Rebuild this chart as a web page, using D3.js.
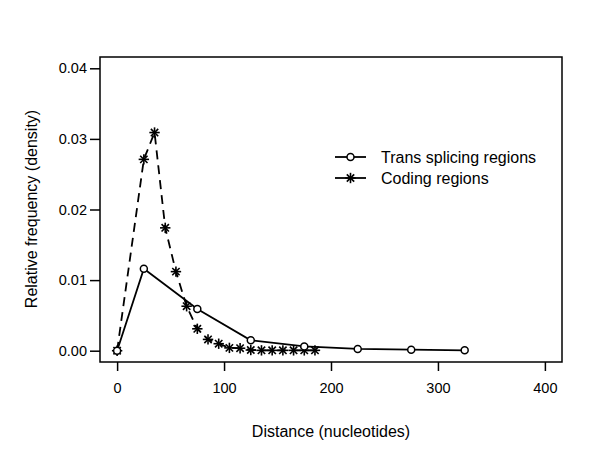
<!DOCTYPE html>
<html>
<head>
<meta charset="utf-8">
<script src="https://cdn.jsdelivr.net/npm/d3@7"></script>
<style>
  body { margin: 0; background: #fff; }
  svg text { font-family: "Liberation Sans", Arial, sans-serif; fill: #000; }
</style>
</head>
<body>
<div id="chart"></div>
<script>
// distance bins (nucleotides) and densities
var transX = [0, 25, 75, 125, 175, 225, 275, 325];
var transY = [0, 0.0116, 0.0059, 0.00148, 0.0006, 0.00025, 0.00015, 0.00005];

var codingX = [0, 25, 35, 45, 55, 65, 75, 85, 95, 105, 115, 125, 135, 145, 155, 165, 175, 185];
var codingY = [0, 0.0271, 0.0309, 0.0174, 0.0112, 0.0063, 0.0031, 0.0016, 0.00099, 0.0004, 0.00035,
               0.0001, 0.00005, 0.00005, 0.00005, 0.00005, 0.00005, 0.00005];

var xTicks = [0, 100, 200, 300, 400];
var yTicks = [0, 0.01, 0.02, 0.03, 0.04];

var legendLabels = ["Trans splicing regions", "Coding regions"];

var width = 600, height = 468;

// plot region (R style: 4% padding around the limits)
var xScale = d3.scaleLinear().domain([-16, 416]).range([100, 562]);
var yScale = d3.scaleLinear().domain([-0.0016, 0.0416]).range([362, 57]);

var svg = d3.select("#chart")
    .append("svg")
    .attr("width", width)
    .attr("height", height);

// box around the plot
svg.append("rect")
    .attr("x", 100).attr("y", 57)
    .attr("width", 462).attr("height", 305)
    .attr("fill", "none")
    .attr("stroke", "#000")
    .attr("stroke-width", 1.5);

// axes
var xAxis = d3.axisBottom(xScale)
    .tickValues(xTicks)
    .tickSize(9)
    .tickPadding(12)
    .tickSizeOuter(0);

var yAxis = d3.axisLeft(yScale)
    .tickValues(yTicks)
    .tickFormat(d3.format(".2f"))
    .tickSize(10)
    .tickPadding(3)
    .tickSizeOuter(0);

var gx = svg.append("g")
    .attr("transform", "translate(0,362)")
    .call(xAxis);
gx.select(".domain").remove();
gx.selectAll("line").attr("stroke-width", 1.5);
gx.selectAll("text").attr("font-size", 14.5).attr("font-family", "Liberation Sans, Arial, sans-serif");

var gy = svg.append("g")
    .attr("transform", "translate(100,0)")
    .call(yAxis);
gy.select(".domain").remove();
gy.selectAll("line").attr("stroke-width", 1.5);
gy.selectAll("text").attr("font-size", 14.5).attr("font-family", "Liberation Sans, Arial, sans-serif");

// axis titles
svg.append("text")
    .attr("x", 331).attr("y", 437)
    .attr("text-anchor", "middle")
    .attr("font-size", 16)
    .text("Distance (nucleotides)");

svg.append("text")
    .attr("transform", "translate(37,209) rotate(-90)")
    .attr("text-anchor", "middle")
    .attr("font-size", 16)
    .text("Relative frequency (density)");

var transData = transX.map(function(d, i) { return [d, transY[i]]; });
var codingData = codingX.map(function(d, i) { return [d, codingY[i]]; });

var line = d3.line()
    .x(function(d) { return xScale(d[0]); })
    .y(function(d) { return yScale(d[1]); });

// coding regions: dashed line
svg.append("path")
    .datum(codingData)
    .attr("fill", "none")
    .attr("stroke", "#000")
    .attr("stroke-width", 1.8)
    .attr("stroke-dasharray", "9,6")
    .attr("d", line);

// trans splicing: solid line
svg.append("path")
    .datum(transData)
    .attr("fill", "none")
    .attr("stroke", "#000")
    .attr("stroke-width", 1.8)
    .attr("d", line);

// asterisk marker (pch 8)
function star(g, cx, cy, r) {
    var a = r * 0.7071;
    var segs = [[-r, 0, r, 0], [0, -r, 0, r], [-a, -a, a, a], [-a, a, a, -a]];
    segs.forEach(function(s) {
        g.append("line")
            .attr("x1", cx + s[0]).attr("y1", cy + s[1])
            .attr("x2", cx + s[2]).attr("y2", cy + s[3])
            .attr("stroke", "#000")
            .attr("stroke-width", 1.6);
    });
}

var stars = svg.append("g");
codingData.forEach(function(d) {
    star(stars, xScale(d[0]), yScale(d[1]), 5.2);
});

svg.selectAll("circle.trans")
    .data(transData)
    .enter().append("circle")
    .attr("class", "trans")
    .attr("cx", function(d) { return xScale(d[0]); })
    .attr("cy", function(d) { return yScale(d[1]); })
    .attr("r", 3.5)
    .attr("fill", "#fff")
    .attr("stroke", "#000")
    .attr("stroke-width", 1.5);

// legend
var legend = svg.append("g");
var rows = [157, 178];
legendLabels.forEach(function(lab, i) {
    var y = rows[i];
    legend.append("line")
        .attr("x1", 335).attr("x2", 366)
        .attr("y1", y).attr("y2", y)
        .attr("stroke", "#000")
        .attr("stroke-width", 1.8);
    if (i === 0) {
        legend.append("circle")
            .attr("cx", 350.5).attr("cy", y).attr("r", 3.5)
            .attr("fill", "#fff").attr("stroke", "#000").attr("stroke-width", 1.5);
    } else {
        star(legend, 350.5, y, 5.2);
    }
    legend.append("text")
        .attr("x", 381).attr("y", y)
        .attr("dy", "0.35em")
        .attr("font-size", 16)
        .text(lab);
});
</script>
</body>
</html>
